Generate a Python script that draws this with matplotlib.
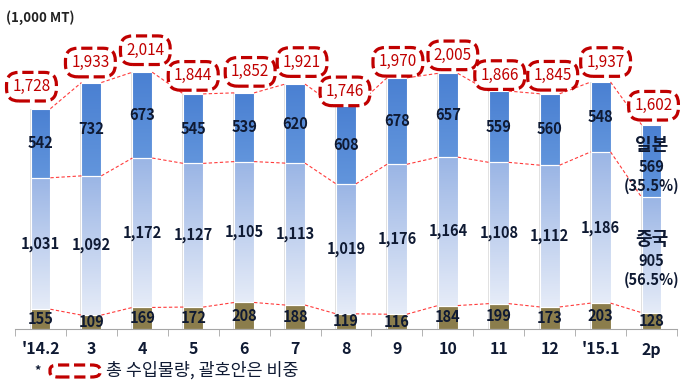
import numpy as np
import matplotlib
matplotlib.use('Agg')
import matplotlib.pyplot as plt
from matplotlib.patches import FancyBboxPatch
from matplotlib.colors import LinearSegmentedColormap

plt.rcParams['font.family'] = ['Noto Sans CJK KR', 'DejaVu Sans']

# data (1,000 MT)
months = ["'14.2", '3', '4', '5', '6', '7', '8', '9', '10', '11', '12', "'15.1", '2p']
other = [155, 109, 169, 172, 208, 188, 119, 116, 184, 199, 173, 203, 128]
china = [1031, 1092, 1172, 1127, 1105, 1113, 1019, 1176, 1164, 1108, 1112, 1186, 905]
japan = [542, 732, 673, 545, 539, 620, 608, 678, 657, 559, 560, 548, 569]
totals = [1728, 1933, 2014, 1844, 1852, 1921, 1746, 1970, 2005, 1866, 1845, 1937, 1602]

# manual nudges for the total boxes (pixels: dx, height above bar top)
box_nudge = [(-9, 22), (-1, 20), (3, 22), (0, 18), (6, 21), (7, 22), (-1, 15),
             (1, 16), (5, 18), (1, 16), (3, 18), (5, 20), (2, 19)]

red = '#c00000'
txt_col = '#0f1a33'

fig = plt.figure(figsize=(6.91, 3.83), dpi=100)
ax = fig.add_axes([15 / 691, 54 / 383, 662 / 691, 280.5 / 383])

x = np.arange(len(months))
w = 0.39
other = np.array(other)
china = np.array(china)
japan = np.array(japan)

# light grey outline behind each stack
ax.bar(x, other + china + japan, width=w + 0.04, color='#e0e0e0', zorder=1)

b_other = ax.bar(x, other, width=w, color='#8b7d4c', edgecolor='white', lw=0.8, zorder=2)
b_china = ax.bar(x, china, width=w, bottom=other, color='none', edgecolor='white', lw=0.8, zorder=2)
b_japan = ax.bar(x, japan, width=w, bottom=other + china, color='none', edgecolor='white', lw=0.8, zorder=2)

cm_china = LinearSegmentedColormap.from_list('c', ['#e6ecf8', '#9ab5e5'])
cm_japan = LinearSegmentedColormap.from_list('j', ['#6295dc', '#4a80d2'])
grad = np.linspace(0, 1, 256).reshape(-1, 1)
for bars, cmap in [(b_china, cm_china), (b_japan, cm_japan)]:
    for p in bars:
        x0, y0 = p.get_x(), p.get_y()
        im = ax.imshow(grad, cmap=cmap, origin='lower', aspect='auto',
                       extent=[x0, x0 + p.get_width(), y0, y0 + p.get_height()], zorder=1.5)
        im.set_clip_path(p)

# dashed connectors between bars
for level in [other, other + china, other + china + japan]:
    for i in range(len(x) - 1):
        ax.plot([x[i] + w / 2, x[i + 1] - w / 2], [level[i], level[i + 1]],
                color='#ff3b3b', lw=0.8, ls=(0, (3, 2)), zorder=3)

# segment labels
lab = dict(ha='center', va='center', fontsize=10.5, fontweight='bold', color=txt_col, zorder=5)
for i in range(len(x) - 1):
    ax.text(x[i], other[i] / 2, f'{other[i]:,}', **lab)
    ax.text(x[i], other[i] + china[i] / 2, f'{china[i]:,}', **lab)
    ax.text(x[i], other[i] + china[i] + japan[i] / 2, f'{japan[i]:,}', **lab)

# last bar: labelled with country and share
i = len(x) - 1
ax.text(x[i], other[i] / 2, f'{other[i]:,}', **lab)
tot = totals[i]
jm = other[i] + china[i] + japan[i] / 2
cmid = other[i] + china[i] / 2
for ymid, name, val in [(jm, '일본', japan[i]), (cmid, '중국', china[i])]:
    ax.annotate(name, (x[i], ymid), xytext=(0, 11), textcoords='offset points',
                ha='center', va='center', fontsize=13, fontweight='bold', color=txt_col, zorder=5)
    ax.annotate(f'{val:,}', (x[i], ymid), xytext=(0, -4), textcoords='offset points',
                ha='center', va='center', fontsize=10.5, fontweight='bold', color=txt_col, zorder=5)
    ax.annotate(f'({val / tot * 100:.1f}%)', (x[i], ymid), xytext=(0, -18), textcoords='offset points',
                ha='center', va='center', fontsize=10.5, fontweight='bold', color=txt_col, zorder=5)

# totals in dashed rounded boxes
for i, t in enumerate(totals):
    dx, dy = box_nudge[i]
    ax.annotate(f'{t:,}', (x[i], t), xytext=(dx * 0.72, dy * 0.72), textcoords='offset points',
                ha='center', va='center', fontsize=11, color=red, zorder=6,
                annotation_clip=False,
                bbox=dict(boxstyle='round,pad=0.38,rounding_size=0.8', fc='white',
                          ec=red, lw=2.3, ls=(0, (3.5, 1.5))))

ax.set_xlim(-0.5, len(x) - 0.5)
ax.set_ylim(0, 2200)
for s in ['top', 'right', 'left']:
    ax.spines[s].set_visible(False)
ax.spines['bottom'].set_color('#a6a6a6')
ax.set_yticks([])
ax.set_xticks(x)
ax.set_xticklabels(months, fontsize=11.5, fontweight='bold', color=txt_col)
ax.set_xticks(np.arange(-0.5, len(x)), minor=True)
ax.tick_params(axis='x', which='major', length=0, pad=9)
ax.tick_params(axis='x', which='minor', length=5, color='#a6a6a6')

fig.text(6 / 691, 1 - 18 / 383, '(1,000 MT)', fontsize=9.5, fontweight='bold', color='#222222',
         ha='left', va='center')

# footnote
fig.text(38 / 691, 1 - 371 / 383, '*', fontsize=9, fontweight='bold', color=txt_col,
         ha='center', va='center')
fig.patches.append(FancyBboxPatch((50 / 691, 1 - 377 / 383), 50 / 691, 12 / 383,
                                  boxstyle='round,pad=0,rounding_size=0.012',
                                  transform=fig.transFigure, fc='white', ec=red,
                                  lw=2.3, ls=(0, (3.5, 1.5))))
fig.text(106 / 691, 1 - 370 / 383, '총 수입물량, 괄호안은 비중', fontsize=12.5, color=txt_col,
         ha='left', va='center')

fig.savefig('out.png', dpi=100)
